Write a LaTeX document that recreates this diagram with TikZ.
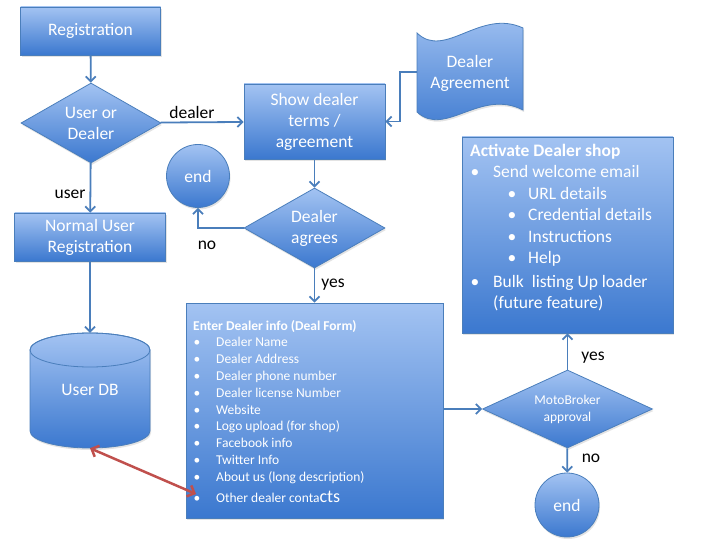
\documentclass[tikz,border=0pt]{standalone}
\usepackage{fontspec}
\setmainfont{Carlito}
\usetikzlibrary{shapes.geometric,arrows.meta,shadows}
\definecolor{topc}{HTML}{A3C3F2}
\definecolor{botc}{HTML}{3B78CF}
\definecolor{edgec}{HTML}{4A7EBB}
\definecolor{arrc}{HTML}{4A7EBB}
\definecolor{redc}{HTML}{C0504D}
\tikzset{
  base/.style={top color=topc, bottom color=botc, draw=edgec, line width=0.8pt,
    text=white, font=\fontsize{17.5}{21}\selectfont, align=center, inner sep=0pt,
    drop shadow={shadow xshift=1pt, shadow yshift=-2pt, opacity=0.22}},
  box/.style={base, rectangle},
  dec/.style={base, diamond},
  term/.style={base, circle},
  conn/.style={draw=arrc, line width=1.8pt, -{Straight Barb[length=5pt,width=10pt]}},
  lbl/.style={font=\fontsize{17.5}{21}\selectfont, text=black, inner sep=0pt},
  itm/.style={text=white, anchor=base west, inner sep=0pt, font=\fontsize{13.5}{17}\selectfont},
  bul/.style={text=white, anchor=base, inner sep=0pt, font=\fontsize{13.5}{17}\selectfont},
  aitm/.style={text=white, anchor=base west, inner sep=0pt, font=\fontsize{17.5}{21}\selectfont},
  abul/.style={text=white, anchor=base, inner sep=0pt, font=\fontsize{17.5}{21}\selectfont},
}
\begin{document}
\begin{tikzpicture}[x=1pt,y=-1pt]
\useasboundingbox (0,0) rectangle (720,540);

% Registration
\node[box, minimum width=140, minimum height=48] (reg) at (90.5,31) {Registration};
% User or Dealer
\node[dec, minimum width=140, minimum height=80, aspect=1.75] (ud) at (91,123) {User or\\Dealer};
% Normal user registration
\node[box, minimum width=151, minimum height=48] (nur) at (90,237) {Normal User\\Registration};
% User DB cylinder
\node[minimum width=120, minimum height=115, inner sep=0pt] (db) at (90,390.5) {};
\path[top color=topc, bottom color=botc, draw=edgec, line width=0.8pt,
  drop shadow={shadow xshift=1pt, shadow yshift=-2pt, opacity=0.22}]
  (30,350) -- (30,431) arc[start angle=180, end angle=360, x radius=60pt, y radius=17pt]
  -- (150,350) arc[start angle=0, end angle=180, x radius=60pt, y radius=17pt] -- cycle;
\draw[edgec, line width=0.8pt] (90,350) ellipse [x radius=60pt, y radius=17pt];
\node[text=white, font=\fontsize{17.5}{21}\selectfont] (dbt) at (90,390) {User DB};

% Show dealer terms
\node[box, minimum width=141, minimum height=75] (sd) at (314.5,121.5) {Show dealer\\terms /\\agreement};
% Dealer Agreement tape
\node[minimum width=106, minimum height=82, inner sep=0pt] (da) at (470,72) {};
\path[top color=topc, bottom color=botc, draw=edgec, line width=0.8pt,
  drop shadow={shadow xshift=1pt, shadow yshift=-2pt, opacity=0.22}]
  (417,33) .. controls (445,60) and (480,8) .. (523,28) -- (523,110)
  .. controls (480,88) and (445,138) .. (417,112) -- cycle;
\node[text=white, font=\fontsize{17.5}{21}\selectfont, align=center] (dat) at (470,73) {Dealer\\Agreement};

% end 1
\node[term, minimum size=63] (end1) at (198,176) {end};
% Dealer agrees
\node[dec, minimum width=141, minimum height=80, aspect=1.76] (agr) at (314.5,228) {Dealer\\agrees};

% Deal form
\node[box, minimum width=257, minimum height=215] (df) at (314.5,410.5) {};
\node[itm, font=\bfseries\fontsize{13.5}{17}\selectfont] (dft) at (193,330) {Enter Dealer info (Deal Form)};
\foreach \yy/\tt [count=\i] in {346/Dealer Name, 363/Dealer Address, 380/Dealer phone number,
  397/Dealer license Number, 414/Website, 430/Logo upload (for shop), 447/Facebook info,
  464/Twitter Info, 481/About us (long description)} {
  \node[bul] (dfb\i) at (197,\yy) {\textbullet};
  \node[itm] (dfi\i) at (216,\yy) {\tt};
}
\node[bul] (dfb10) at (197,502) {\textbullet};
\node[itm] (dfi10) at (216,502) {Other dealer conta{\fontsize{18}{18}\selectfont cts}};
\coordinate (dfpt) at (196,494);

% MotoBroker approval
\node[dec, minimum width=170, minimum height=78, aspect=2.18,
  font=\fontsize{13.5}{17}\selectfont] (mb) at (567.5,409) {MotoBroker\\approval};
% end 2
\node[term, minimum size=64] (end2) at (567,505) {end};

% Activate dealer shop
\node[box, minimum width=211, minimum height=196] (act) at (567.5,235) {};
\node[aitm, font=\bfseries\fontsize{17.5}{21}\selectfont] (actt) at (470,157) {Activate Dealer shop};
\node[abul] (ab1) at (475,178) {\textbullet};
\node[aitm] (ai1) at (493,178) {Send welcome email};
\foreach \yy/\tt [count=\i] in {200/URL details, 221/Credential details, 243/Instructions, 263/Help} {
  \node[abul] (asb\i) at (512,\yy) {\textbullet};
  \node[aitm] (asi\i) at (528,\yy) {\tt};
}
\node[abul] (ab2) at (475,287) {\textbullet};
\node[aitm] (ai2) at (493,287) {Bulk\ \ listing Up loader};
\node[aitm] (ai3) at (493,308) {(future feature)};

% connectors
\draw[conn] (reg) -- (ud);
\draw[conn] (ud) -- (nur);
\draw[conn] (nur) -- (db);
\draw[conn] (ud) -- (sd);
\draw[conn] (da.west) -- ++(-17,0) |- (sd.east);
\draw[conn] (sd) -- (agr);
\draw[conn] (agr.west) -| (end1.south);
\draw[conn] (agr) -- (df);
\draw[conn] (df.east |- mb.west) -- (mb.west);
\draw[conn] (mb) -- (act);
\draw[conn] (mb) -- (end2);
\draw[draw=redc, line width=2.5pt, {Straight Barb[length=6pt,width=12pt]}-{Straight Barb[length=6pt,width=12pt]}] (db.south) -- (dfpt);

% labels
\node[lbl] (ldealer) at (192,112) {dealer};
\node[lbl] (luser) at (70,194) {user};
\node[lbl] (lno1) at (207,245) {no};
\node[lbl] (lyes1) at (333,285) {yes};
\node[lbl] (lyes2) at (593,358) {yes};
\node[lbl] (lno2) at (591,458) {no};
\end{tikzpicture}
\end{document}
